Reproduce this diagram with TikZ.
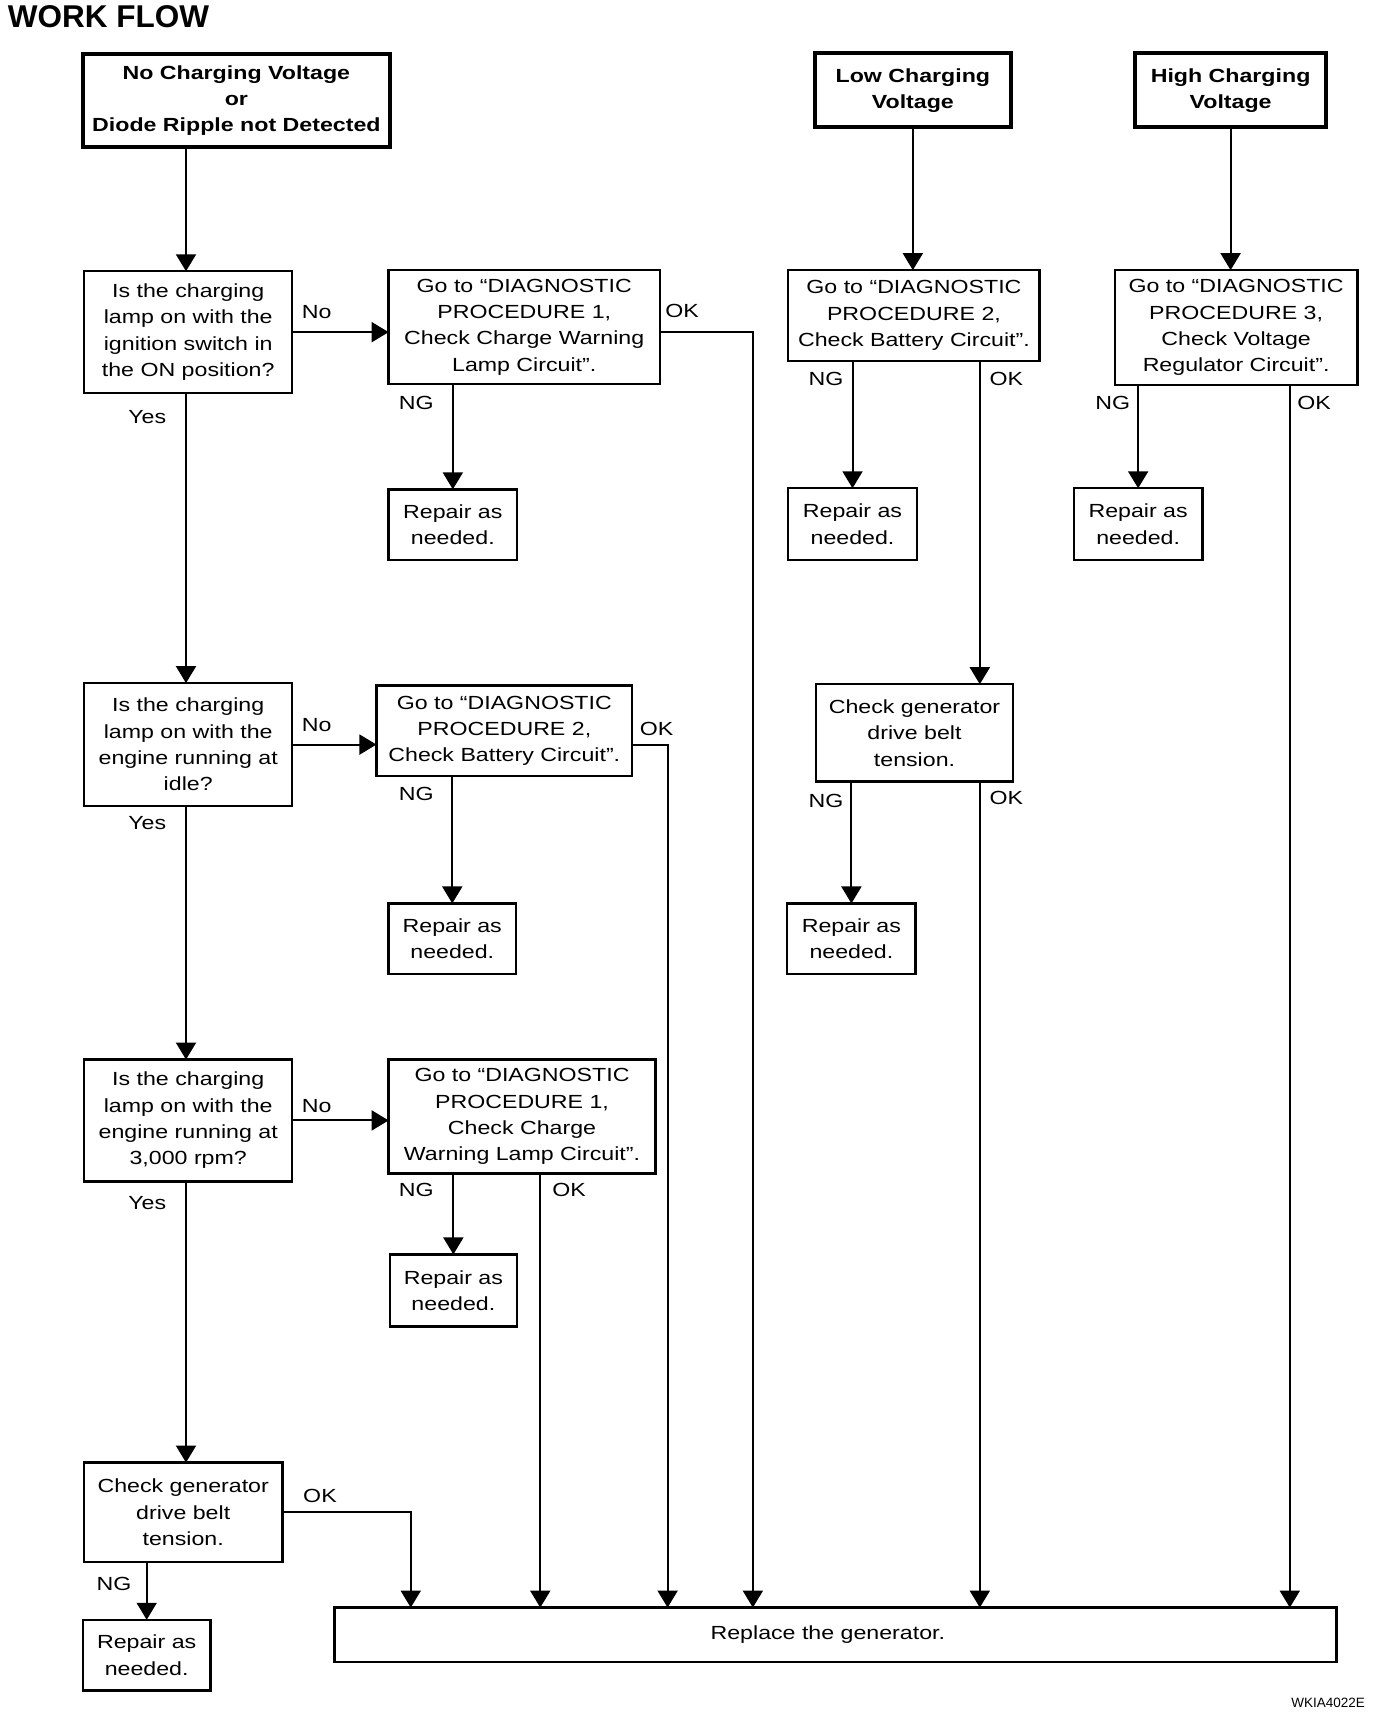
\documentclass[tikz,border=0pt]{standalone}
\usepackage{fontspec}
\setmainfont{Liberation Sans}[FakeStretch=1.22]
\newfontfamily\titlefont{Liberation Sans}
\usetikzlibrary{arrows.meta}
\tikzset{
  sz/.style 2 args={minimum width=#1*1.1074pt, minimum height=#2*1.1074pt},
  box/.style={draw, line width=2.4pt, inner sep=0pt, outer sep=0pt, align=center,
    font=\fontsize{19}{26.3}\selectfont},
  headbox/.style={box, line width=4pt, font=\bfseries\fontsize{19}{26}\selectfont},
  lbl/.style={inner sep=0pt, font=\fontsize{19}{22}\selectfont},
  arr/.style={line width=2pt, -{Triangle[length=17pt,width=20pt]}}
}
\begin{document}
\begin{tikzpicture}[x=1.1074pt,y=-1.1074pt]
\useasboundingbox (0,0) rectangle (1257,1568);
% title and code
\node[anchor=base west, inner sep=0pt, font=\titlefont\bfseries\fontsize{31.5}{32}\selectfont] (title) at (7,24.4) {WORK FLOW};
\node[anchor=base east, inner sep=0pt, font=\titlefont\fontsize{13.5}{14}\selectfont] (code) at (1233,1542) {WKIA4022E};
% column x coordinates
\coordinate (sx) at (168,0);
\coordinate (x680) at (680,0);
\coordinate (x603) at (603,0);
\coordinate (x488) at (488,0);
\coordinate (x371) at (371,0);
\coordinate (x885) at (885,0);
\coordinate (x1165) at (1165,0);
% start boxes
\node[headbox, sz={277}{84}] (A) at (213.5,91) {No Charging Voltage\\or\\Diode Ripple not Detected};
\node[headbox, sz={177}{67}] (Low) at (824.5,81.5) {Low Charging\\Voltage};
\node[headbox, sz={173}{67}] (High) at (1111.5,81.5) {High Charging\\Voltage};
% left column
\node[box, sz={188}{110}] (Q1) at (170,300) {Is the charging\\lamp on with the\\ignition switch in\\the ON position?};
\node[box, sz={245}{103}] (P1) at (473.5,295.5) {Go to “DIAGNOSTIC\\PROCEDURE 1,\\Check Charge Warning\\Lamp Circuit”.};
\node[box, sz={116}{64}] (R1) at (409,474) {Repair as\\needed.};
\node[box, sz={188}{111}] (Q2) at (170,672.5) {Is the charging\\lamp on with the\\engine running at\\idle?};
\node[box, sz={231}{82}] (P2b) at (455.5,660) {Go to “DIAGNOSTIC\\PROCEDURE 2,\\Check Battery Circuit”.};
\node[box, sz={115}{64}] (R2) at (408.5,848) {Repair as\\needed.};
\node[box, sz={188}{110}] (Q3) at (170,1012) {Is the charging\\lamp on with the\\engine running at\\3,000 rpm?};
\node[box, sz={241}{103}] (P1b) at (471.5,1008.5) {Go to “DIAGNOSTIC\\PROCEDURE 1,\\Check Charge\\Warning Lamp Circuit”.};
\node[box, sz={115}{65}] (R3) at (409.5,1165.5) {Repair as\\needed.};
\node[box, sz={179}{90}] (CG1) at (165.5,1366) {Check generator\\drive belt\\tension.};
\node[box, sz={115}{64}] (R4) at (132.5,1495) {Repair as\\needed.};
\node[box, sz={905}{49}] (Rep) at (754.5,1476.5) {Replace the generator.\hspace*{15pt}};
% middle right column
\node[box, sz={227}{82}] (P2a) at (825.5,285) {Go to “DIAGNOSTIC\\PROCEDURE 2,\\Check Battery Circuit”.};
\node[box, sz={116}{65}] (R5) at (770,473.5) {Repair as\\needed.};
\node[box, sz={178}{88}] (CG2) at (826,662) {Check generator\\drive belt\\tension.};
\node[box, sz={116}{64}] (R6) at (769,848) {Repair as\\needed.};
% right column
\node[box, sz={219}{104}] (P3) at (1116.5,296) {Go to “DIAGNOSTIC\\PROCEDURE 3,\\Check Voltage\\Regulator Circuit”.};
\node[box, sz={116}{65}] (R7) at (1028,473.5) {Repair as\\needed.};
% connectors: left spine
\draw[arr] (A.south -| sx) -- (Q1.north -| sx);
\draw[arr] (Q1.south -| sx) -- (Q2.north -| sx);
\draw[arr] (Q2.south -| sx) -- (Q3.north -| sx);
\draw[arr] (Q3.south -| sx) -- (CG1.north -| sx);
% Q1 branch
\draw[arr] (Q1.east) -- (Q1.east -| P1.west);
\draw[arr] (Q1.east -| P1.east) -- (Q1.east -| x680) -- (Rep.north -| x680);
\draw[arr] (P1.south -| R1) -- (R1.north);
% Q2 branch
\draw[arr] (Q2.east) -- (Q2.east -| P2b.west);
\draw[arr] (Q2.east -| P2b.east) -- (Q2.east -| x603) -- (Rep.north -| x603);
\draw[arr] (P2b.south -| R2) -- (R2.north);
% Q3 branch
\draw[arr] (Q3.east) -- (Q3.east -| P1b.west);
\draw[arr] (P1b.south -| R3) -- (R3.north);
\draw[arr] (P1b.south -| x488) -- (Rep.north -| x488);
% CG1 branch
\draw[arr] (CG1.east) -- (CG1.east -| x371) -- (Rep.north -| x371);
\draw[arr] (CG1.south -| R4) -- (R4.north);
% low column
\draw[arr] (Low.south) -- (Low.south |- P2a.north);
\draw[arr] (P2a.south -| R5) -- (R5.north);
\draw[arr] (P2a.south -| x885) -- (CG2.north -| x885);
\draw[arr] (CG2.south -| R6) -- (R6.north);
\draw[arr] (CG2.south -| x885) -- (Rep.north -| x885);
% high column
\draw[arr] (High.south) -- (High.south |- P3.north);
\draw[arr] (P3.south -| R7) -- (R7.north);
\draw[arr] (P3.south -| x1165) -- (Rep.north -| x1165);
% labels
\node[lbl] (no1) at (286,282) {No};
\node[lbl] (no2) at (286,655) {No};
\node[lbl] (no3) at (286,999) {No};
\node[lbl] (yes1) at (133,377) {Yes};
\node[lbl] (yes2) at (133,743) {Yes};
\node[lbl] (yes3) at (133,1087) {Yes};
\node[lbl] (ng1) at (376,364) {NG};
\node[lbl] (ng2) at (376,717) {NG};
\node[lbl] (ng3) at (376,1075) {NG};
\node[lbl] (ng4) at (103,1431) {NG};
\node[lbl] (ng5) at (746,342) {NG};
\node[lbl] (ng6) at (746,723) {NG};
\node[lbl] (ng7) at (1005,364) {NG};
\node[lbl] (ok1) at (616,281) {OK};
\node[lbl] (ok2) at (593,658) {OK};
\node[lbl] (ok3) at (514,1075) {OK};
\node[lbl] (ok4) at (289,1351) {OK};
\node[lbl] (ok5) at (909,342) {OK};
\node[lbl] (ok6) at (909,721) {OK};
\node[lbl] (ok7) at (1187,364) {OK};
\end{tikzpicture}
\end{document}
